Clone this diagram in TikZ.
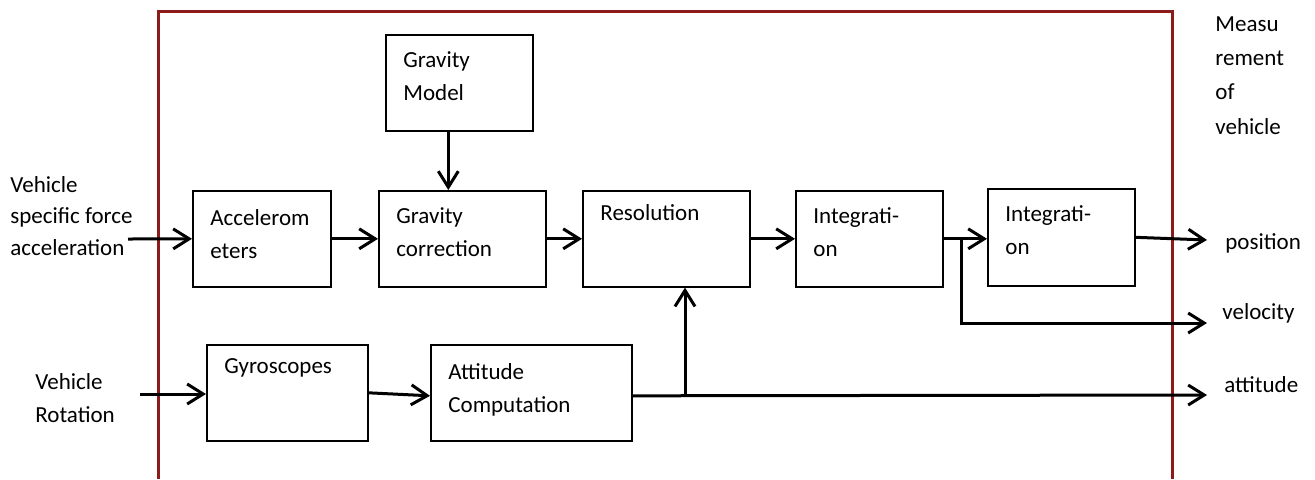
\documentclass[tikz,border=0pt]{standalone}
\usepackage{fontspec}
\setmainfont{Carlito}
\definecolor{INSred}{HTML}{8E1B1B}
\usetikzlibrary{arrows.meta, calc, positioning}

\begin{document}
\begin{tikzpicture}[x=0.5pt, y=-0.5pt,
      blk/.style={draw, line width=0.8pt, anchor=north west, inner sep=0pt},
      txt/.style={anchor=north west, inner sep=0pt, align=left,
         font=\fontsize{11.5}{16.75}\selectfont},
      arr/.style={-{Straight Barb[length=8pt, width=10pt]}, line width=1.5pt}]
   \useasboundingbox (0,0) rectangle (1315,479);
   % Outer frame (open at the bottom)
   \draw[INSred, line width=1.5pt] (158,479) -- (158,11) -- (1172,11) -- (1172,479);
   % Blocks
   \node[blk, minimum width=73.5pt, minimum height=48pt] (gm) at (385,34) {};
   \node[blk, minimum width=69pt, minimum height=48pt] (acc) at (192,190) {};
   \node[blk, minimum width=83.5pt, minimum height=48pt] (gc) at (378,190) {};
   \node[blk, minimum width=83.5pt, minimum height=48pt] (res) at (582,190) {};
   \node[blk, minimum width=73.5pt, minimum height=48pt] (int1) at (795,190) {};
   \node[blk, minimum width=73.5pt, minimum height=48.5pt] (int2) at (987,188) {};
   \node[blk, minimum width=80.5pt, minimum height=48pt] (gyro) at (206,344) {};
   \node[blk, minimum width=100.5pt, minimum height=48pt] (att) at (430,344) {};
   % Block texts
   \node[txt] (gmtxt) at ($(gm.north west)+(18,17)$) {Gravity\\Model};
   \node[txt] (acctxt) at ($(acc.north west)+(18,19)$) {Accelerom\\eters};
   \node[txt] (gctxt) at ($(gc.north west)+(18,17)$) {Gravity\\correction};
   \node[txt] (restxt) at ($(res.north west)+(18,14)$) {Resolution};
   \node[txt] (int1txt) at ($(int1.north west)+(18,17)$) {Integrati-\\on};
   \node[txt] (int2txt) at ($(int2.north west)+(18,17)$) {Integrati-\\on};
   \node[txt] (gyrotxt) at ($(gyro.north west)+(18,14)$) {Gyroscopes};
   \node[txt] (atttxt) at ($(att.north west)+(18,19)$) {Attitude\\Computation};
   % Inputs and outputs
   \node[txt, font=\fontsize{11.5}{15.75}\selectfont] (fintxt) at (10,176) {Vehicle\\specific force\\acceleration};
   \node[txt] (rintxt) at (35,373) {Vehicle\\Rotation};
   \node[txt, font=\fontsize{11.5}{17.2}\selectfont] (meastxt) at (1215,16) {Measu\\rement\\of\\vehicle};
   \node[txt] (postxt) at (1225,233) {position};
   \node[txt] (veltxt) at (1222,303) {velocity};
   \node[txt] (atttxtout) at (1224,376) {attitude};
   \coordinate (fin) at (128,239);
   \coordinate (rin) at (140,394);
   \coordinate (posout) at (1207,240);
   \coordinate (split) at (961,240);
   \coordinate (velout) at (1207,323);
   \coordinate (attin) at ($(att.west)+(0,3)$);
   \coordinate (attfrom) at ($(att.east)+(0,3)$);
   \coordinate (attout) at (1207,395);
   \coordinate (tap) at (685,395);
   \coordinate (gmout) at ($(gm.south)+(-11,0)$);
   % Signal flow
   \draw[arr] (fin) -- (acc.west);
   \draw[arr] (acc.east) -- (gc.west);
   \draw[arr] (gmout) -- (gmout |- gc.north);
   \draw[arr] (gc.east) -- (res.west);
   \draw[arr] (res.east) -- (int1.west);
   \draw[arr] (int1.east) -- (int1.east -| int2.west);
   \draw[arr] (int2.east) -- (posout);
   \draw[arr] (split) |- (velout);
   \draw[arr] (rin) -- (rin -| gyro.west);
   \draw[arr] (gyro.east) -- (attin);
   \draw[arr] (attfrom) -- (attout);
   \draw[arr] (tap) -- (tap |- res.south);
\end{tikzpicture}
\end{document}
